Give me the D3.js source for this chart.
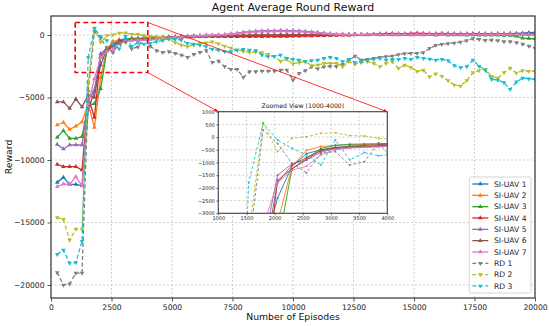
<!DOCTYPE html>
<html>
<head>
<meta charset="utf-8">
<script src="https://cdn.jsdelivr.net/npm/d3@7"></script>
<style>
  body { margin: 0; background: #fff; }
  svg { display: block; font-family: 'DejaVu Sans', sans-serif; }
</style>
</head>
<body>
<svg id="chart" width="550" height="326"></svg>
<script>
// Episodes are logged at an even step (78 checkpoints up to 20000)
const EPISODE_STEP = 20000 / 78;
const episodes = d3.range(1, 79).map(k => k * EPISODE_STEP);

const xTicks = [0, 2500, 5000, 7500, 10000, 12500, 15000, 17500, 20000];
const yTicks = [-20000, -15000, -10000, -5000, 0];
const insetXTicks = [1000, 1500, 2000, 2500, 3000, 3500, 4000];
const insetYTicks = [-3000, -2500, -2000, -1500, -1000, -500, 0, 500, 1000];

const seriesNames = ['SI-UAV 1', 'SI-UAV 2', 'SI-UAV 3', 'SI-UAV 4', 'SI-UAV 5', 'SI-UAV 6', 'SI-UAV 7', 'RD 1', 'RD 2', 'RD 3'];

const siUav1 = [-11790, -11390, -11950, -11950, -12050, -6000, -4500, -2400, -1150, -650, -500, -400, -380, -360, -340,
  -300, -280, -250, -230, -200, -180, -160, -140, -120, -110,
  -100, -90, -80, -70, -60, -60, -50, -40, -40, -30,
  -30, -20, -20, -10, -10, 0, 0, 10, 0, 10,
  10, 20, 10, 20, 20, 30, 20, 30, 20, 30,
  30, 40, 30, 40, 40, 50, 40, 50, 60, 50,
  60, 70, 60, 80, 70, 80, 90, 80, 100, 120,
  150, 180, 200];
const siUav2 = [-7200, -7000, -7550, -7300, -6950, -5500, -7400, -3400, -1150, -520, -370, -330, -300, -290, -280,
  -250, -230, -200, -180, -160, -140, -120, -100, -90, -80,
  -70, -60, -50, -50, -40, -40, -30, -30, -20, -20,
  -20, -10, -10, 0, 0, 10, 0, 10, 10, 20,
  10, 20, 20, 30, 20, 30, 30, 40, 30, 40,
  40, 30, 40, 50, 40, 50, 40, 50, 40, 50,
  40, 50, 40, 50, 60, 50, 60, 50, 60, 50,
  60, 50, 60];
const siUav3 = [-8190, -7650, -8270, -8270, -8130, -5600, -5500, -4300, -1250, -850, -450, -320, -280, -270, -260,
  -240, -220, -200, -180, -160, -140, -130, -120, -110, -100,
  -100, -90, -90, -80, -80, -70, -70, -60, -60, -50,
  -50, -40, -40, -30, -30, -20, -20, -10, -10, 0,
  0, 10, 10, 20, 10, 20, 20, 30, 20, 30,
  30, 20, 30, 20, 30, 20, 10, 20, 10, 0,
  0, -10, 0, -10, -20, -10, -20, -30, -40, -100,
  -250, -280, -300];
const siUav4 = [-10350, -10530, -10530, -10530, -10800, -5000, -6600, -1700, -1250, -900, -500, -450, -400, -380, -350,
  -320, -290, -260, -230, -200, -180, -160, -150, -140, -130,
  -130, -120, -120, -130, -130, -120, -130, -120, -130, -120,
  -120, -110, -120, -100, -90, -80, -70, -60, -50, -40,
  -30, -20, -10, 0, 20, 40, 60, 80, 100, 120,
  110, 100, 120, 150, 120, 100, 110, 120, 100, 110,
  100, 90, 100, 110, 100, 90, 100, 90, 100, 80,
  90, 80, 90];
const siUav5 = [-8750, -9120, -8800, -8800, -8800, -5200, -4400, -1500, -1050, -900, -600, -450, -420, -400, -380,
  -330, -280, -240, -200, -170, -140, -110, -80, -60, -40,
  -20, 0, 30, 80, 150, 220, 270, 300, 320, 340,
  350, 360, 350, 340, 320, 290, 250, 200, 150, 100,
  60, 40, 30, 20, 20, 10, 20, 10, 20, 10,
  10, 20, 10, 20, 10, 20, 10, 20, 10, 20,
  20, 30, 20, 30, 20, 30, 40, 30, 40, 30,
  40, 30, 40];
const siUav6 = [-5350, -5350, -5870, -5120, -5750, -4800, -5000, -1800, -1100, -800, -550, -420, -350, -330, -300,
  -270, -240, -210, -180, -160, -140, -120, -100, -90, -80,
  -70, -60, -50, -40, -30, -20, -10, 0, 0, 10,
  10, 20, 20, 30, 20, 30, 20, 30, 30, 40,
  30, 40, 30, 40, 30, 40, 30, 40, 30, 40,
  30, 40, 30, 40, 30, 40, 30, 40, 30, 40,
  30, 40, 30, 40, 30, 40, 30, 40, 30, 40,
  30, 40, 30];
const siUav7 = [-12130, -11920, -11950, -11330, -12080, -5500, -3500, -1800, -1300, -1150, -700, -500, -430, -400, -380,
  -340, -300, -260, -220, -180, -150, -120, -90, -60, -40,
  -20, 0, 30, 60, 120, 180, 220, 250, 270, 280,
  290, 300, 290, 280, 260, 230, 200, 160, 120, 80,
  50, 40, 30, 40, 30, 40, 30, 40, 30, 40,
  40, 50, 40, 50, 40, 50, 40, 50, 40, 50,
  40, 50, 40, 50, 40, 50, 40, 50, 40, 50,
  40, 50, 40];
const rd1 = [-19000, -20000, -19900, -19050, -19050, -4500, 280, -250, -1030, -1400, -640, -570, -1100, -970, -220,
  -900, -1250, -1390, -1330, -1470, -1600, -1790, -1550, -1390, -1250,
  -2190, -2080, -2530, -2750, -2750, -3390, -2930, -2930, -2880, -2880,
  -2880, -2800, -2800, -3600, -3070, -2850, -2550, -2700, -2550, -2500,
  -2530, -2350, -2050, -1680, -2000, -1950, -1870, -1790, -1730, -1680,
  -1570, -1490, -1470, -1470, -1410, -1070, -830, -750, -690, -640,
  -560, -450, -290, -350, -430, -400, -450, -530, -530, -610,
  -720, -880, -1050];
const rd2 = [-14600, -14750, -16400, -15520, -15520, -3900, 560, -570, -50, 15, 150, 170, 60, 45, -50,
  -100, -130, -200, -350, -600, -800, -930, -800, -670, -620,
  -550, -700, -900, -1050, -1200, -1300, -1400, -1350, -1400, -1550,
  -1730, -2100, -1950, -2300, -2200, -2130, -2450, -2400, -2270, -2270,
  -2270, -2530, -2130, -2320, -2210, -2130, -2270, -2530, -2270, -2130,
  -2670, -2400, -2600, -2900, -2800, -3350, -3100, -3300, -3650, -4000,
  -4080, -3650, -3000, -2850, -2750, -3300, -3450, -3000, -2650, -3050,
  -2850, -2900, -2900];
const rd3 = [-17550, -17200, -18250, -18200, -16500, -1800, 540, -115, -440, -700, -1100, -115, -900, -610, -730,
  -670, -530, -450, -270, -350, -400, -670, -720, -800, -930,
  -1150, -1200, -1330, -1330, -1200, -1150, -1200, -1250, -1600, -1730,
  -1700, -1600, -1870, -1950, -2000, -2130, -2050, -2000, -1870, -1790,
  -1870, -2130, -1950, -2210, -2130, -2000, -1950, -1870, -2000, -1950,
  -1950, -1870, -1950, -1790, -1870, -1920, -2000, -1950, -2050, -2450,
  -2600, -2530, -2000, -2500, -2800, -3550, -3600, -3800, -4350, -3750,
  -3450, -3500, -3550];

const seriesValues = [siUav1, siUav2, siUav3, siUav4, siUav5, siUav6, siUav7, rd1, rd2, rd3];
const seriesColors = ['#1f77b4', '#ff7f0e', '#2ca02c', '#d62728', '#9467bd', '#8c564b', '#e377c2', '#7f7f7f', '#bcbd22', '#17becf'];

const svg = d3.select('#chart');
const W = 550, H = 326;
const margin = { left: 51, top: 16, right: 15, bottom: 28 };
const plotW = W - margin.left - margin.right;
const plotH = H - margin.top - margin.bottom;

const x = d3.scaleLinear().domain([0, 20000]).range([margin.left, margin.left + plotW]);
const y = d3.scaleLinear().domain([-21040, 1520]).range([margin.top + plotH, margin.top]);

const defs = svg.append('defs');
defs.append('clipPath').attr('id', 'clip-main')
  .append('rect').attr('x', margin.left).attr('y', margin.top).attr('width', plotW).attr('height', plotH);

defs.append('marker')
  .attr('id', 'arrow')
  .attr('viewBox', '0 0 10 10')
  .attr('refX', 10).attr('refY', 5)
  .attr('markerWidth', 5).attr('markerHeight', 5)
  .attr('orient', 'auto')
  .append('path').attr('d', 'M0,1 L10,5 L0,9 Z').attr('fill', '#ff0000');

// Draw a set of axes (grid, series, frame, ticks) into a group
function drawPanel(g, xs, ys, opts) {
  const [x0, x1] = xs.range();
  const [y1, y0] = ys.range();

  g.append('rect')
    .attr('x', x0).attr('y', y0).attr('width', x1 - x0).attr('height', y1 - y0)
    .attr('fill', '#fff');

  const grid = g.append('g').attr('class', 'grid');
  grid.selectAll('.gx').data(opts.xTicks).join('line')
    .attr('x1', d => xs(d)).attr('x2', d => xs(d))
    .attr('y1', y0).attr('y2', y1)
    .attr('stroke', '#b0b0b0').attr('stroke-width', 0.6)
    .attr('stroke-dasharray', '2,2');
  grid.selectAll('.gy').data(opts.yTicks).join('line')
    .attr('x1', x0).attr('x2', x1)
    .attr('y1', d => ys(d)).attr('y2', d => ys(d))
    .attr('stroke', '#b0b0b0').attr('stroke-width', 0.6)
    .attr('stroke-dasharray', '2,2');

  const plot = g.append('g').attr('clip-path', `url(#${opts.clip})`);
  const line = d3.line().x((d, i) => xs(episodes[i])).y(d => ys(d));

  seriesValues.forEach((vals, s) => {
    const dashed = s >= 7;
    plot.append('path')
      .attr('d', line(vals))
      .attr('fill', 'none')
      .attr('stroke', seriesColors[s])
      .attr('stroke-width', opts.lw)
      .attr('stroke-dasharray', dashed ? opts.dash : null)
      .attr('stroke-linejoin', 'round');
    const sym = d3.symbol().type(d3.symbolTriangle).size(opts.ms);
    plot.selectAll(null).data(vals).join('path')
      .attr('d', sym)
      .attr('transform', (d, i) => `translate(${xs(episodes[i])},${ys(d)})${dashed ? ' rotate(180)' : ''}`)
      .attr('fill', seriesColors[s]);
  });

  // frame
  g.append('rect')
    .attr('x', x0).attr('y', y0).attr('width', x1 - x0).attr('height', y1 - y0)
    .attr('fill', 'none').attr('stroke', '#444').attr('stroke-width', opts.frame);

  const fmt = d3.format('d');
  const xAxis = g.append('g')
    .attr('transform', `translate(0,${y1})`)
    .call(d3.axisBottom(xs).tickValues(opts.xTicks).tickFormat(fmt)
      .tickSize(opts.tick).tickPadding(opts.pad).tickSizeOuter(0));
  const yAxis = g.append('g')
    .attr('transform', `translate(${x0},0)`)
    .call(d3.axisLeft(ys).tickValues(opts.yTicks).tickFormat(fmt)
      .tickSize(opts.tick).tickPadding(opts.pad).tickSizeOuter(0));
  [xAxis, yAxis].forEach(a => {
    a.select('.domain').remove();
    a.selectAll('line').attr('stroke', '#444').attr('stroke-width', opts.frame * 0.7);
    a.selectAll('text')
      .attr('fill', '#222')
      .style('font-family', "'DejaVu Sans', sans-serif")
      .style('font-size', opts.font + 'px');
  });
}

// main panel
const main = svg.append('g');
drawPanel(main, x, y, {
  xTicks, yTicks, clip: 'clip-main',
  lw: 1.3, ms: 9, dash: '4,2.5', frame: 1.3, tick: 3.5, pad: 3, font: 7.6
});

// zoom region marker
const rx0 = x(1000), rx1 = x(4000), ry0 = y(1000), ry1 = y(-3000);
svg.append('rect')
  .attr('x', rx0).attr('y', ry0).attr('width', rx1 - rx0).attr('height', ry1 - ry0)
  .attr('fill', 'none').attr('stroke', '#ff0000').attr('stroke-width', 1.6)
  .attr('stroke-dasharray', '5,3');

// inset
const inset = { left: 218.3, top: 111.7, width: 169, height: 101.6 };
const ix = d3.scaleLinear().domain([1000, 4000]).range([inset.left, inset.left + inset.width]);
const iy = d3.scaleLinear().domain([-3000, 1000]).range([inset.top + inset.height, inset.top]);
defs.append('clipPath').attr('id', 'clip-inset')
  .append('rect').attr('x', inset.left).attr('y', inset.top).attr('width', inset.width).attr('height', inset.height);

svg.append('line')
  .attr('x1', rx1).attr('y1', ry0).attr('x2', inset.left + inset.width).attr('y2', inset.top)
  .attr('stroke', '#ff0000').attr('stroke-width', 0.8).attr('marker-end', 'url(#arrow)');
svg.append('line')
  .attr('x1', rx1).attr('y1', ry1).attr('x2', inset.left).attr('y2', inset.top)
  .attr('stroke', '#ff0000').attr('stroke-width', 0.8).attr('marker-end', 'url(#arrow)');

const insetG = svg.append('g');
drawPanel(insetG, ix, iy, {
  xTicks: insetXTicks, yTicks: insetYTicks, clip: 'clip-inset',
  lw: 0.9, ms: 3, dash: '3,2', frame: 1.1, tick: 2, pad: 1.5, font: 5
});
insetG.append('text')
  .attr('x', inset.left + inset.width / 2).attr('y', inset.top - 4)
  .attr('text-anchor', 'middle')
  .style('font-size', '6.2px').attr('fill', '#222')
  .text('Zoomed View (1000-4000)');

// titles
svg.append('text')
  .attr('x', margin.left + plotW / 2).attr('y', 11)
  .attr('text-anchor', 'middle')
  .style('font-size', '10.9px').attr('fill', '#111')
  .text('Agent Average Round Reward');
svg.append('text')
  .attr('x', margin.left + plotW / 2).attr('y', 320)
  .attr('text-anchor', 'middle')
  .style('font-size', '9.3px').attr('fill', '#111')
  .text('Number of Episodes');
svg.append('text')
  .attr('transform', `translate(12,${margin.top + plotH / 2}) rotate(-90)`)
  .attr('text-anchor', 'middle')
  .style('font-size', '9.3px').attr('fill', '#111')
  .text('Reward');

// legend
const legend = svg.append('g').attr('transform', 'translate(469.3,177)');
legend.append('rect')
  .attr('width', 61.7).attr('height', 116)
  .attr('rx', 2)
  .attr('fill', '#fff').attr('fill-opacity', 0.85)
  .attr('stroke', '#cccccc').attr('stroke-width', 0.8);
seriesNames.forEach((name, s) => {
  const cy = 7 + s * 11.33;
  const dashed = s >= 7;
  const row = legend.append('g').attr('transform', `translate(0,${cy})`);
  row.append('line')
    .attr('x1', 3).attr('x2', 19)
    .attr('stroke', seriesColors[s]).attr('stroke-width', 1.3)
    .attr('stroke-dasharray', dashed ? '4,2.5' : null);
  row.append('path')
    .attr('d', d3.symbol().type(d3.symbolTriangle).size(9))
    .attr('transform', `translate(11,0)${dashed ? ' rotate(180)' : ''}`)
    .attr('fill', seriesColors[s]);
  row.append('text')
    .attr('x', 24.7).attr('dy', '0.35em')
    .style('font-size', '7.6px').attr('fill', '#222')
    .text(name);
});
</script>
</body>
</html>
